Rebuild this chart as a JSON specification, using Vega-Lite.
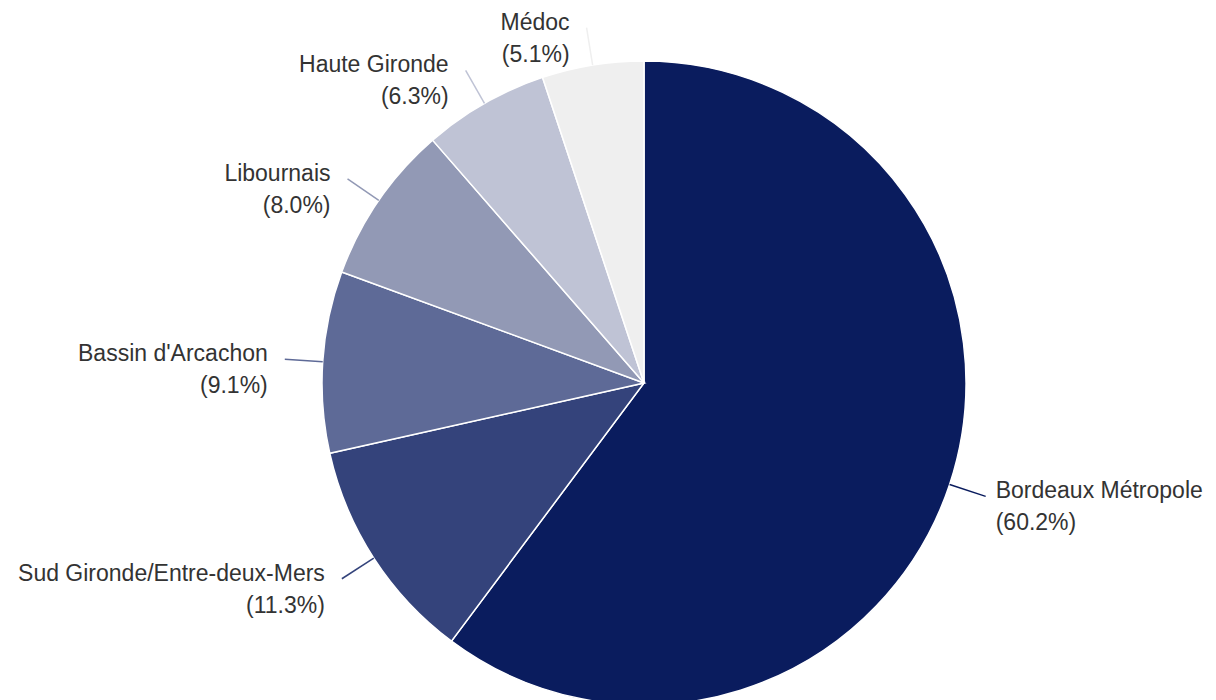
{
  "$schema": "https://vega.github.io/schema/vega-lite/v6.json",
  "autosize": {"type": "none"},
  "width": 1144,
  "height": 634,
  "padding": {"left": 72, "top": 66, "right": 0, "bottom": 0},
  "background": "white",
  "config": {"view": {"stroke": null}},
  "data": {
    "values": [
      {"region": "Bordeaux Métropole", "value": 60.2},
      {"region": "Sud Gironde/Entre-deux-Mers", "value": 11.3},
      {"region": "Bassin d'Arcachon", "value": 9.1},
      {"region": "Libournais", "value": 8.0},
      {"region": "Haute Gironde", "value": 6.3},
      {"region": "Médoc", "value": 5.1}
    ]
  },
  "transform": [
    {"window": [{"op": "sum", "field": "value", "as": "cum"}], "sort": [{"field": "value", "order": "descending"}], "frame": [null, 0]},
    {"joinaggregate": [{"op": "sum", "field": "value", "as": "total"}]},
    {"calculate": "(datum.cum - datum.value / 2) / datum.total * 2 * PI", "as": "mid"},
    {"calculate": "322 * sin(datum.mid)", "as": "lx1"},
    {"calculate": "-322 * cos(datum.mid)", "as": "ly1"},
    {"calculate": "360 * sin(datum.mid)", "as": "lx2"},
    {"calculate": "-360 * cos(datum.mid)", "as": "ly2"},
    {"calculate": "datum.region + '|(' + format(datum.value, '.1f') + '%)'", "as": "label"}
  ],
  "layer": [
    {
      "mark": {"type": "arc", "outerRadius": 322, "stroke": "white", "strokeWidth": 1.5},
      "encoding": {
        "theta": {"field": "value", "type": "quantitative", "stack": true},
        "order": {"field": "value", "sort": "descending"},
        "color": {
          "field": "region", "type": "nominal", "legend": null,
          "scale": {
            "domain": ["Bordeaux Métropole", "Sud Gironde/Entre-deux-Mers", "Bassin d'Arcachon", "Libournais", "Haute Gironde", "Médoc"],
            "range": ["#0a1c5e", "#34437b", "#5e6a97", "#9299b5", "#bfc3d5", "#efefef"]
          }
        }
      }
    },
    {
      "mark": {"type": "rule", "strokeWidth": 1.5},
      "encoding": {
        "x": {"field": "lx1", "type": "quantitative", "scale": {"domain": [-572, 572], "nice": false, "zero": false}, "axis": null},
        "y": {"field": "ly1", "type": "quantitative", "scale": {"domain": [-317, 317], "nice": false, "zero": false, "reverse": true}, "axis": null},
        "x2": {"field": "lx2"},
        "y2": {"field": "ly2"},
        "color": {"field": "region", "type": "nominal", "legend": null}
      }
    },
    {
      "transform": [{"filter": "datum.lx2 >= 0"}],
      "mark": {"type": "text", "align": "left", "baseline": "middle", "dx": 10, "dy": -5, "lineBreak": "|", "lineHeight": 32, "font": "Liberation Sans", "fontSize": 23, "color": "#333333"},
      "encoding": {
        "x": {"field": "lx2", "type": "quantitative"},
        "y": {"field": "ly2", "type": "quantitative"},
        "text": {"field": "label", "type": "nominal"}
      }
    },
    {
      "transform": [{"filter": "datum.lx2 < 0"}],
      "mark": {"type": "text", "align": "right", "baseline": "middle", "dx": -17, "dy": -5, "lineBreak": "|", "lineHeight": 32, "font": "Liberation Sans", "fontSize": 23, "color": "#333333"},
      "encoding": {
        "x": {"field": "lx2", "type": "quantitative"},
        "y": {"field": "ly2", "type": "quantitative"},
        "text": {"field": "label", "type": "nominal"}
      }
    }
  ]
}
